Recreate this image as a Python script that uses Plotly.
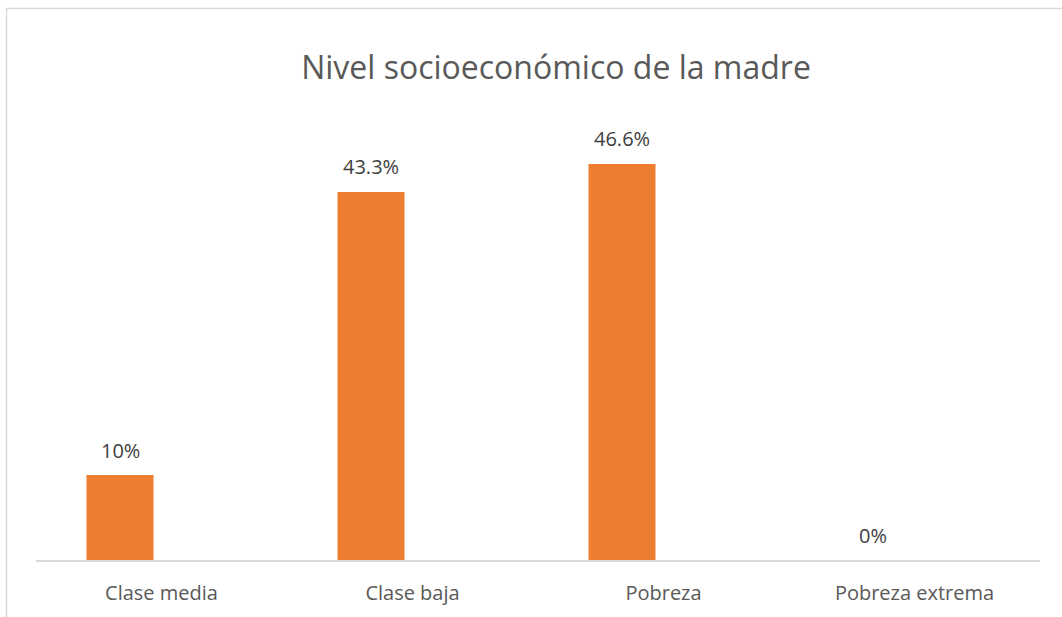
import plotly.graph_objects as go

# Nivel socioeconómico de la madre (porcentaje)
categorias = ["Clase media", "Clase baja", "Pobreza", "Pobreza extrema"]
porcentajes = [10, 43.3, 46.6, 0]
etiquetas = ["10%", "43.3%", "46.6%", "0%"]

W, H = 1062, 617
x0, x1 = 36, 1040      # plot area, px
y_base, y_top = 560, 135
band = (x1 - x0) / len(categorias)   # px per category
bar_w = 67 / band                    # bar width, category units
bar_off = -75 / band                 # left edge relative to category centre
shift_px = (bar_off + bar_w / 2) * band

fig = go.Figure(
    go.Bar(
        x=categorias,
        y=porcentajes,
        marker=dict(color="#ED7D31", line=dict(width=0)),
        width=bar_w,
        offset=bar_off,
        hoverinfo="skip",
    )
)

# value labels above each bar
for cat, val, txt in zip(categorias, porcentajes, etiquetas):
    fig.add_annotation(
        x=cat,
        y=val,
        xref="x",
        yref="y",
        text=txt,
        showarrow=False,
        xanchor="center",
        yanchor="middle",
        xshift=shift_px,
        yshift=25,
        font=dict(family="Open Sans", size=20, color="#404040"),
    )

fig.update_layout(
    width=W,
    height=H,
    margin=dict(l=0, r=0, t=0, b=0),
    paper_bgcolor="white",
    plot_bgcolor="white",
    showlegend=False,
    title=dict(
        text="Nivel socioeconómico de la madre",
        x=556 / W,
        xanchor="center",
        y=1 - 68 / H,
        yanchor="middle",
        font=dict(family="Open Sans", size=32, color="#595959"),
    ),
    xaxis=dict(
        domain=[x0 / W, x1 / W],
        showline=True,
        linecolor="#d9d9d9",
        linewidth=1.5,
        ticks="",
        ticklabelstandoff=14,
        tickfont=dict(family="Open Sans", size=20, color="#595959"),
        showgrid=False,
        zeroline=False,
    ),
    yaxis=dict(
        domain=[(H - y_base) / H, (H - y_top) / H],
        range=[0, 50],
        visible=False,
        showgrid=False,
        zeroline=False,
    ),
    shapes=[
        dict(
            type="rect",
            xref="paper",
            yref="paper",
            x0=6.5 / W,
            x1=1.05,
            y0=-0.05,
            y1=1 - 8.5 / H,
            line=dict(color="#d9d9d9", width=1.5),
            fillcolor="rgba(0,0,0,0)",
            layer="below",
        )
    ],
)

fig.write_html("out.html")
